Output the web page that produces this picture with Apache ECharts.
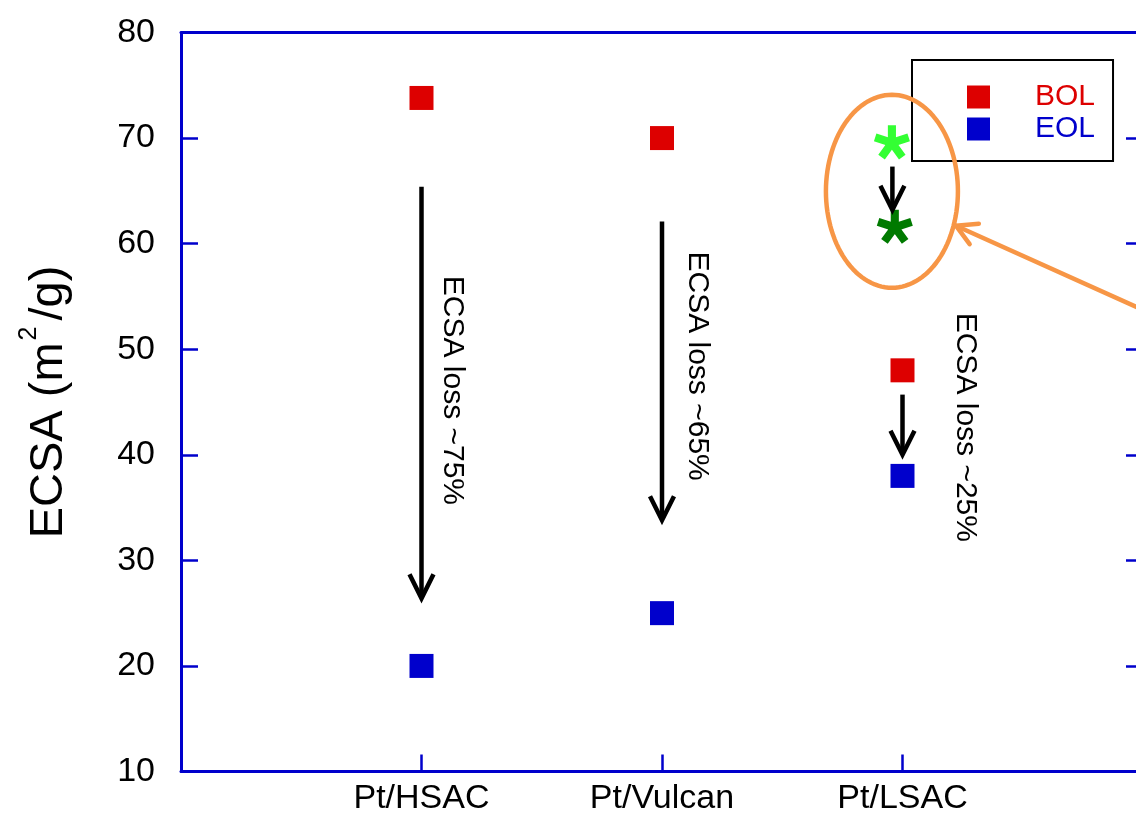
<!DOCTYPE html>
<html>
<head>
<meta charset="utf-8">
<script src="https://cdn.jsdelivr.net/npm/echarts@6/dist/echarts.min.js"></script>
<style>
  html, body { margin: 0; padding: 0; background: #fff; }
  #chart { width: 1136px; height: 818px; }
</style>
</head>
<body>
<div id="chart"></div>
<script>
// Catalyst supports, placed at x = 1, 2, 3 on the horizontal axis
const categories = ['Pt/HSAC', 'Pt/Vulcan', 'Pt/LSAC'];
const categoryX = [1, 2, 3];

// ECSA (m2/g) at beginning and end of life
const bolValues = [73.8, 70.0, 48.0];
const eolValues = [20.0, 25.0, 38.0];

// Improved LSAC catalyst (asterisks)
const starX = [2.956, 2.968];
const starBol = [69.6];
const starEol = [61.6];

// Loss arrows: [x, from ECSA, to ECSA]
const lossArrows = [
  [1, 65.4, 26.4],
  [2, 62.1, 33.8],
  [3, 45.7, 40.0],
  [2.958, 67.3, 63.2]
];

// Rotated loss labels: [x, y] of label centre and text
const lossLabelPos = [[1.127, 46.1], [2.146, 48.4], [3.26, 42.6]];
const lossLabelText = ['ECSA loss ~75%', 'ECSA loss ~65%', 'ECSA loss ~25%'];

// Highlight ellipse centre and call-out arrow (tip, tail) in data units
const highlightCentre = [2.956, 64.96];
const calloutTip = [3.222, 61.7];
const calloutTail = [4.07, 53.0];

const yTicks = { min: 10, max: 80, step: 10 };

const FONT = 'Liberation Sans, Arial, Helvetica, sans-serif';
const AXIS_BLUE = '#0000cc';
const RED = '#dd0000';
const BLUE = '#0000cc';
const ORANGE = '#f79646';

// Five-armed asterisk symbol
function asteriskPath() {
  const w = 0.23, L = 1, s = 100;
  let d = '';
  for (let i = 0; i < 5; i++) {
    const a = i * 72 * Math.PI / 180;
    const dx = Math.sin(a), dy = -Math.cos(a);
    const nx = Math.cos(a), ny = Math.sin(a);
    const pts = [
      [nx * w - dx * 0.1, ny * w - dy * 0.1],
      [nx * w + dx * L, ny * w + dy * L],
      [-nx * w + dx * L, -ny * w + dy * L],
      [-nx * w - dx * 0.1, -ny * w - dy * 0.1]
    ];
    d += 'M' + pts.map(p => (p[0] * s).toFixed(2) + ' ' + (p[1] * s).toFixed(2)).join(' L') + ' Z ';
  }
  return 'path://' + d;
}
const ASTERISK = asteriskPath();

const axisLineStyle = { show: true, onZero: false, lineStyle: { color: AXIS_BLUE, width: 3 } };
const innerTick = { show: true, inside: true, length: 17, lineStyle: { color: AXIS_BLUE, width: 2.5 } };

const chart = echarts.init(document.getElementById('chart'), null, { renderer: 'canvas' });

const option = {
  animation: false,
  backgroundColor: '#fff',
  grid: { left: 181, width: 962, top: 32.5, bottom: 46.5, containLabel: false, outerBoundsMode: 'none' },
  legend: {
    orient: 'vertical',
    left: 912,
    top: 60,
    padding: [22, 18, 17, 55],
    itemGap: 2,
    itemWidth: 23,
    itemHeight: 23,
    icon: 'rect',
    borderColor: '#000',
    borderWidth: 2,
    selectedMode: false,
    textStyle: { fontFamily: FONT, fontSize: 30, padding: [0, 0, 0, 40] },
    data: [
      { name: 'BOL', textStyle: { color: RED } },
      { name: 'EOL', textStyle: { color: BLUE } }
    ]
  },
  xAxis: [
    {
      type: 'value', min: 0, max: 4, interval: 1, position: 'bottom',
      axisLine: axisLineStyle,
      axisTick: innerTick,
      splitLine: { show: false },
      axisLabel: {
        margin: 10, color: '#000', fontFamily: FONT, fontSize: 34,
        formatter: v => { const i = categoryX.indexOf(v); return i >= 0 ? categories[i] : ''; }
      }
    },
    {
      type: 'value', min: 0, max: 4, position: 'top',
      axisLine: axisLineStyle,
      axisTick: { show: false }, axisLabel: { show: false }, splitLine: { show: false }
    }
  ],
  yAxis: [
    {
      type: 'value', min: yTicks.min, max: yTicks.max, interval: yTicks.step, position: 'left',
      name: 'ECSA (m{sup|2}/g)',
      nameLocation: 'middle', nameGap: 100, nameRotate: 90,
      nameTextStyle: {
        fontFamily: FONT, fontSize: 47, color: '#000', lineHeight: 64,
        rich: { sup: { fontFamily: FONT, fontSize: 25, color: '#000', verticalAlign: 'top', lineHeight: 25, padding: [0, 6, 0, 2] } }
      },
      axisLine: axisLineStyle,
      axisTick: innerTick,
      splitLine: { show: false },
      axisLabel: { margin: 26, color: '#000', fontFamily: FONT, fontSize: 34 }
    },
    {
      type: 'value', min: yTicks.min, max: yTicks.max, interval: yTicks.step, position: 'right',
      axisLine: axisLineStyle,
      axisTick: innerTick,
      axisLabel: { show: false }, splitLine: { show: false }
    }
  ],
  series: [
    {
      name: 'BOL', type: 'scatter', symbol: 'rect', symbolSize: 24,
      itemStyle: { color: RED, opacity: 1 },
      data: categoryX.map((x, i) => [x, bolValues[i]]), z: 5
    },
    {
      name: 'EOL', type: 'scatter', symbol: 'rect', symbolSize: 24,
      itemStyle: { color: BLUE, opacity: 1 },
      data: categoryX.map((x, i) => [x, eolValues[i]]), z: 5
    },
    {
      name: 'LSAC+ BOL', type: 'scatter', symbol: ASTERISK, symbolSize: 36, symbolKeepAspect: true,
      itemStyle: { color: '#33ff33', opacity: 1 },
      data: [[starX[0], starBol[0]]], z: 5
    },
    {
      name: 'LSAC+ EOL', type: 'scatter', symbol: ASTERISK, symbolSize: 36, symbolKeepAspect: true,
      itemStyle: { color: '#007a00', opacity: 1 },
      data: [[starX[1], starEol[0]]], z: 5
    },
    {
      // loss arrows
      type: 'custom', z: 6, silent: true,
      data: lossArrows,
      renderItem: (params, api) => {
        const p1 = api.coord([api.value(0), api.value(1)]);
        const p2 = api.coord([api.value(0), api.value(2)]);
        const st = { stroke: '#000', lineWidth: 4.5, fill: null };
        return {
          type: 'group',
          children: [
            { type: 'line', shape: { x1: p1[0], y1: p1[1], x2: p2[0], y2: p2[1] - 3 }, style: st },
            { type: 'polyline', shape: { points: [[p2[0] - 12, p2[1] - 24], [p2[0], p2[1]], [p2[0] + 12, p2[1] - 24]] }, style: st }
          ]
        };
      }
    },
    {
      // rotated loss labels
      type: 'custom', z: 6, silent: true,
      data: lossLabelPos,
      renderItem: (params, api) => {
        const p = api.coord([api.value(0), api.value(1)]);
        return {
          type: 'text', x: p[0], y: p[1], rotation: -Math.PI / 2,
          style: {
            text: lossLabelText[params.dataIndex], fill: '#000',
            font: '30px ' + FONT, align: 'center', verticalAlign: 'middle'
          }
        };
      }
    },
    {
      // highlight ellipse and call-out arrow
      type: 'custom', z: 10, zlevel: 1, silent: true,
      data: [[highlightCentre[0], highlightCentre[1]]],
      renderItem: (params, api) => {
        const c = api.coord(highlightCentre);
        const rx = 66, ry = 96.5;
        const pts = [];
        for (let i = 0; i < 120; i++) {
          const t = i / 120 * Math.PI * 2;
          pts.push([c[0] + rx * Math.cos(t), c[1] + ry * Math.sin(t)]);
        }
        const tip = api.coord(calloutTip);
        const tail = api.coord(calloutTail);
        const ang = Math.atan2(tail[1] - tip[1], tail[0] - tip[0]);
        const half = 29 * Math.PI / 180, len = 23;
        const a1 = [tip[0] + len * Math.cos(ang - half), tip[1] + len * Math.sin(ang - half)];
        const a2 = [tip[0] + len * Math.cos(ang + half), tip[1] + len * Math.sin(ang + half)];
        const st = { stroke: ORANGE, lineWidth: 4.5, fill: null, lineCap: 'round', lineJoin: 'round' };
        return {
          type: 'group',
          children: [
            { type: 'polygon', shape: { points: pts }, style: st },
            { type: 'line', shape: { x1: tip[0], y1: tip[1], x2: tail[0], y2: tail[1] }, style: st },
            { type: 'polyline', shape: { points: [a1, tip, a2] }, style: st }
          ]
        };
      }
    }
  ]
};

chart.setOption(option);
</script>
</body>
</html>
